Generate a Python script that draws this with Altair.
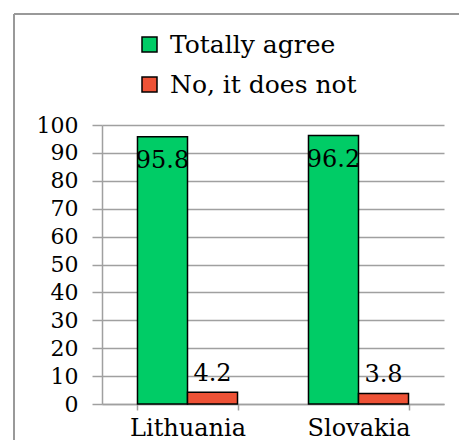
import altair as alt
import pandas as pd

countries = ["Lithuania", "Slovakia"]
series = ["Totally agree", "No, it does not"]
totally_agree = [95.8, 96.2]
does_not = [4.2, 3.8]
colors = ["#00CC66", "#EE5236"]

rows = []
for i, c in enumerate(countries):
    rows.append({"country": c, "series": series[0], "value": totally_agree[i]})
    rows.append({"country": c, "series": series[1], "value": does_not[i]})
df = pd.DataFrame(rows)

FONT = "DejaVu Serif"
GRAY = "#a0a0a0"

x_enc = alt.X("country:N", sort=countries, title=None,
              scale=alt.Scale(paddingInner=0.415, paddingOuter=0.2075),
              axis=alt.Axis(labelAngle=0, labelFont=FONT, labelFontSize=24, labelColor="black",
                            labelBaseline="alphabetic", labelPadding=25, tickSize=6,
                            tickBand="extent", tickColor=GRAY, tickWidth=1.5,
                            domainColor=GRAY, domainWidth=1.5, grid=False, labelLimit=300))
xoff = alt.XOffset("series:N", sort=series, scale=alt.Scale(paddingInner=0, paddingOuter=0))
y_enc = alt.Y("value:Q", title=None,
              scale=alt.Scale(domain=[0, 100], nice=False),
              axis=alt.Axis(values=list(range(0, 101, 10)), tickSize=10, tickColor=GRAY,
                            tickWidth=1.5, domainColor=GRAY, domainWidth=1.5,
                            gridColor=GRAY, gridWidth=1.5, labelFont=FONT, labelFontSize=22,
                            labelColor="black", labelPadding=14, labelOverlap=False))

bars = alt.Chart(df).mark_bar(stroke="black", strokeWidth=1.5).encode(
    x=x_enc, xOffset=xoff, y=y_enc,
    color=alt.Color("series:N", sort=series,
                    scale=alt.Scale(domain=series, range=colors),
                    legend=alt.Legend(title=None, orient="none", legendX=35, legendY=-93,
                                      direction="vertical", symbolType="square",
                                      symbolSize=225, symbolStrokeColor="black",
                                      symbolStrokeWidth=1.5, labelFont=FONT,
                                      labelFontSize=25, labelColor="black", labelLimit=400,
                                      rowPadding=14, labelOffset=8)),
)

lab_green = alt.Chart(df).transform_filter(alt.datum.series == series[0]).mark_text(
    font=FONT, fontSize=24, color="black", baseline="alphabetic", dy=31).encode(
    x=x_enc, xOffset=xoff, y=y_enc,
    text=alt.Text("value:Q", format=".1f"))

lab_red = alt.Chart(df).transform_filter(alt.datum.series == series[1]).mark_text(
    font=FONT, fontSize=24, color="black", baseline="alphabetic", dy=-11).encode(
    x=x_enc, xOffset=xoff, y=y_enc,
    text=alt.Text("value:Q", format=".1f"))

frame_left = alt.Chart(df).mark_rule(color="#999999", strokeWidth=2).encode(
    x=alt.value(-88), y=alt.value(-111), y2=alt.value(340))
frame_top = alt.Chart(df).mark_rule(color="#999999", strokeWidth=2).encode(
    x=alt.value(-88), x2=alt.value(380), y=alt.value(-111))

chart = alt.layer(frame_left, frame_top, bars, lab_green, lab_red).properties(
    width=342, height=279,
    autosize=alt.AutoSizeParams(type="none"),
    padding={"left": 94, "top": 117, "right": 15, "bottom": 36},
).configure_view(stroke=None)

chart.save("out.html", embed_options={"renderer": "svg", "actions": False})
